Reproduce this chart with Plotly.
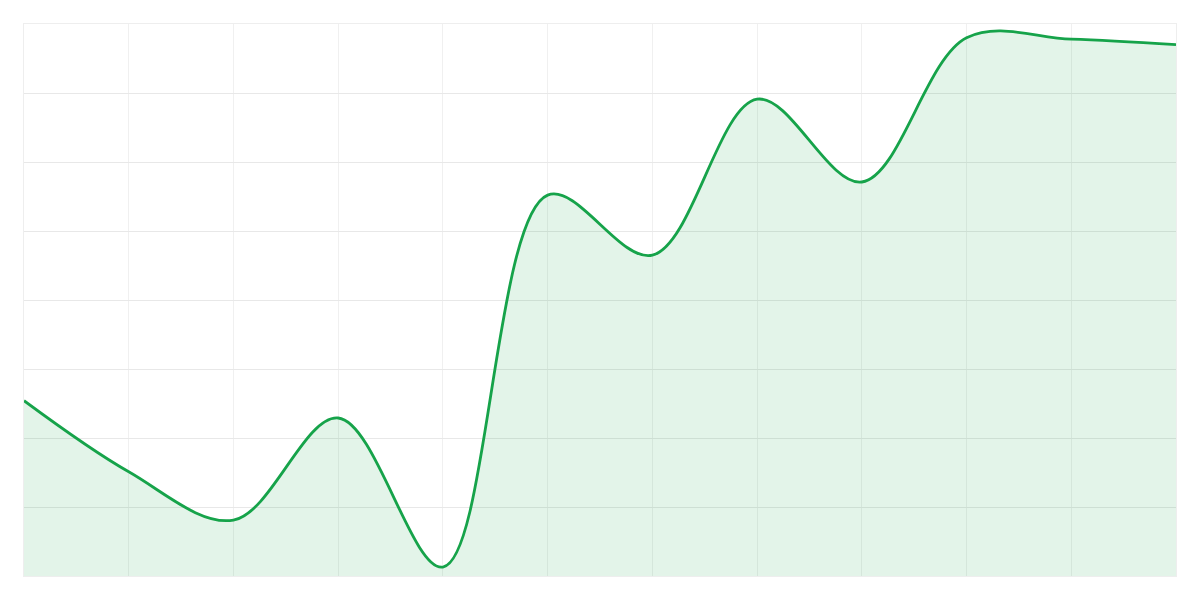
import plotly.graph_objects as go

# x positions (category index) and values
x_index = [0, 1, 2, 3, 4, 5, 6, 7, 8, 9, 10, 11]
values = [2.54, 1.51, 0.81, 2.29, 0.13, 5.52, 4.65, 6.91, 5.71, 7.80, 7.78, 7.70]

LINE = "#16a34a"
FILL = "rgba(22,163,74,0.12)"
GRID = "#e8e8e8"

fig = go.Figure()

fig.add_trace(go.Scatter(
    x=x_index,
    y=values,
    mode="lines",
    line=dict(color=LINE, width=2.8, shape="spline", smoothing=1.0),
    fill="tozeroy",
    fillcolor=FILL,
    hoverinfo="skip",
))

# page body has an 8px margin, so shift the plot area to land at 24px
fig.update_layout(
    width=1200,
    height=600,
    margin=dict(l=16, r=32, t=16, b=32),
    paper_bgcolor="white",
    plot_bgcolor="white",
    showlegend=False,
)

fig.update_xaxes(
    range=[0, 11],
    dtick=1,
    showgrid=True,
    gridcolor="#f0f0f0",
    gridwidth=1,
    showticklabels=False,
    zeroline=False,
    showline=True,
    linecolor="#eeeeee",
    mirror=True,
    ticks="",
)
fig.update_yaxes(
    range=[0, 8],
    dtick=1,
    showgrid=True,
    gridcolor=GRID,
    gridwidth=1,
    showticklabels=False,
    zeroline=False,
    showline=True,
    linecolor="#eeeeee",
    mirror=True,
    ticks="",
)

fig.write_html("out.html")
